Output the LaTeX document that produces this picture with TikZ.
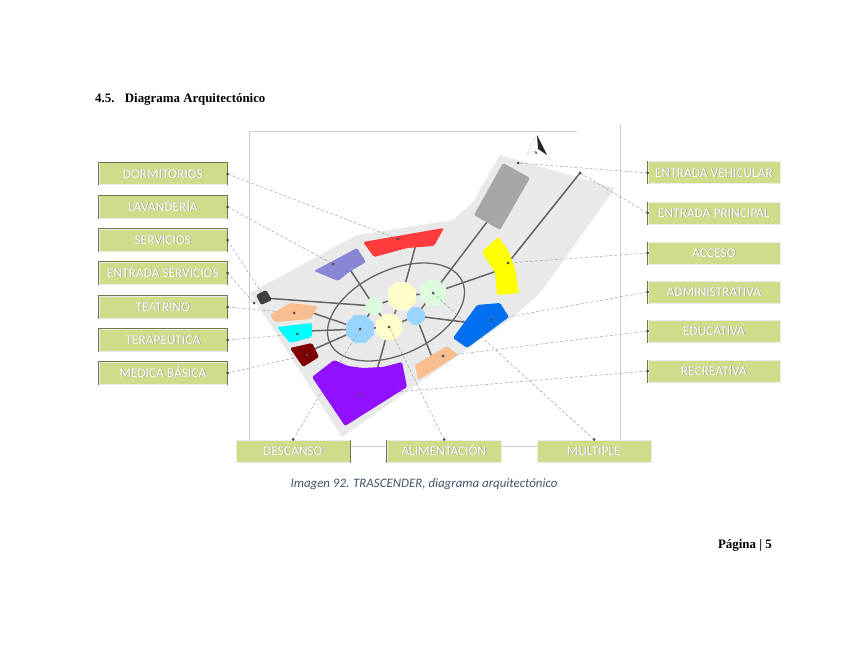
\documentclass[tikz,border=0pt]{standalone}
\usepackage{fontspec}
\setmainfont{Liberation Serif}
\newfontfamily\boxfont{Carlito}
\usetikzlibrary{shapes.geometric}
\definecolor{sitegray}{HTML}{E9E9E9}
\definecolor{boxgreen}{HTML}{CFDD8A}
\definecolor{framegray}{HTML}{CCCCCC}
\definecolor{linkgray}{HTML}{666666}
\definecolor{leadgray}{HTML}{9A9A9A}
\definecolor{capblue}{HTML}{44546A}
\definecolor{cream}{HTML}{FFFFCC}
\definecolor{mint}{HTML}{DDFBDD}
\definecolor{sky}{HTML}{99D6FF}
\definecolor{peach}{HTML}{F9BE8F}
\definecolor{lavender}{HTML}{8A86D6}
\definecolor{zyellow}{HTML}{FFFF00}
\definecolor{zcyan}{HTML}{00FFFF}
\definecolor{zred}{HTML}{FF3B3B}
\definecolor{zdark}{HTML}{7F0000}
\definecolor{zpurple}{HTML}{9010FF}
\definecolor{zblue}{HTML}{0070F0}
\definecolor{edgegreen}{HTML}{6F7A4A}
\newcommand{\boxtext}[1]{\leavevmode\rlap{\hspace{.7pt}\raisebox{-.7pt}{\textcolor{black!38}{#1}}}\textcolor{white!96!boxgreen}{#1}}
\tikzset{
  zonebox/.style={draw=black!8,line width=1pt,fill=boxgreen,minimum height=22pt,inner sep=0pt,text height=8.5pt,text depth=0pt,font=\boxfont\fontsize{13.4}{14}\selectfont},
  lbox/.style={zonebox,minimum width=128pt},
  rbox/.style={zonebox,minimum width=132pt},
  bbox/.style={zonebox,minimum width=114pt},
  bubble/.style={regular polygon,regular polygon sides=8,inner sep=0pt,fill=#1},
  pt/.style={circle,fill=black!70,inner sep=0pt,minimum size=3pt},
  link/.style={linkgray,line width=1.5pt},
  lead/.style={leadgray,densely dashed,line width=.45pt},
  zone/.style={fill=#1,rounded corners=1.5pt},
  edge/.style={edgegreen,line width=.7pt}
}
\begin{document}
\begin{tikzpicture}[x=1pt,y=-1pt]
\useasboundingbox[fill=white] (0,0) rectangle (848,655);
% page text
\node[anchor=west,inner sep=0pt,font=\bfseries\fontsize{12.9}{14}\selectfont] (title) at (95,99) {4.5.\hspace{.8em}Diagrama Arquitectónico};
\node[inner sep=0pt,text=capblue,font=\boxfont\itshape\fontsize{12.9}{14}\selectfont] (caption) at (424,484) {Imagen 92. TRASCENDER, diagrama arquitectónico};
\node[anchor=east,inner sep=0pt,font=\bfseries\fontsize{12.9}{14}\selectfont] (page) at (772,545) {Página | 5};
% frame
\draw[framegray,line width=.8pt] (577,131)--(249,131)--(249,446)--(620,446)--(620,125);
% site
\fill[sitegray] (500,155)--(615,188)--(540,293)--(513,317)--(342,437)--(250,293)--(357,235)--(453,220)--(473,202)--cycle;
% north
\fill[white,draw=black!15,line width=.4pt] (535,137)--(527,155)--(535,150)--cycle;
\fill[black!85] (537,135)--(547,155)--(538,149)--cycle;
\node[inner sep=0pt,font=\bfseries\fontsize{4}{4}\selectfont] (north) at (536,153) {N};
% ring
\draw[linkgray,line width=1.3pt] (396,312) ellipse [x radius=73pt,y radius=42pt,rotate=25];
% bubbles
\node[bubble=mint,minimum size=28pt] (bgreen) at (433,293) {};
\node[bubble=mint,minimum size=18pt] (bsmall) at (374,306) {};
\node[bubble=cream,minimum size=30pt] (bcream) at (402,296) {};
\node[bubble=cream,minimum size=28pt] (blow) at (389,327) {};
\node[bubble=sky,minimum size=30pt] (bblue) at (360,329) {};
\node[bubble=sky,minimum size=19pt] (bsky) at (416,316) {};
% links
\coordinate (egray) at (490,218); \coordinate (eyel) at (497,271); \coordinate (ered) at (416,244);
\coordinate (elav) at (349,268); \coordinate (edark) at (264,298); \coordinate (eteat) at (310,312);
\coordinate (ecyan) at (308,331); \coordinate (edred) at (312,350); \coordinate (epur) at (377,370);
\coordinate (eedu) at (433,360); \coordinate (eblue) at (472,323);
\foreach \a/\b in {bgreen/egray,bgreen/eyel,bcream/ered,bsmall/elav,bsmall/edark,bblue/eteat,bblue/ecyan,bblue/edred,blow/epur,bsky/eedu,bsky/eblue,
  bcream/bsmall,bcream/bgreen,bcream/blow,bsmall/bblue,bsmall/blow,blow/bsky,bsky/bgreen,bblue/blow}
  {\draw[link] (\a)--(\b);}
% labels
\foreach \n/\y/\t in {dorm/174/DORMITORIOS,lav/207/LAVANDERÍA,serv/240/SERVICIOS,ents/273/ENTRADA SERVICIOS,teat/307/TEATRINO,tera/340/TERAPEUTICA,med/373/MEDICA BÁSICA}
  {\node[lbox] (\n) at (163,\y) {\boxtext{\t}};
   \draw[edge] (\n.south west)--(\n.north west)--(\n.north east)--(\n.south east);}
\foreach \n/\y/\t in {entv/173/ENTRADA VEHICULAR,entp/213/ENTRADA PRINCIPAL,acc/253/ACCESO,adm/292/ADMINISTRATIVA,edu/331/EDUCATIVA,rec/371/RECREATIVA}
  {\node[rbox] (\n) at (714,\y) {\boxtext{\t}};
   \draw[edge] (\n.north west)--(\n.south west);}
\foreach \n/\x/\t in {desc/293/DESCANSO,alim/444/ALIMENTACIÓN,mult/594/MULTIPLE}
  {\node[bbox] (\n) at (\x,451) {\boxtext{\t}};}
\draw[edge] (desc.north east)--(desc.south east);
\draw[edge] (alim.north west)--(alim.south west);
% leaders
\coordinate (pdorm) at (398,239); \coordinate (plav) at (333,264); \coordinate (pserv) at (264,297);
\coordinate (pents) at (254,303); \coordinate (pteat) at (294,313); \coordinate (ptera) at (297,334);
\coordinate (pmed) at (307,355); \coordinate (pentv) at (518,163); \coordinate (pentp) at (580,173);
\coordinate (pacc) at (508,263); \coordinate (padm) at (491,320); \coordinate (pedu) at (443,356);
\coordinate (prec) at (360,395); \coordinate (pdesc) at (360,329); \coordinate (palim) at (389,327);
\coordinate (pmult) at (433,293);
\draw[link] (pentp)--(pacc);
\foreach \a/\b in {dorm/pdorm,lav/plav,serv/pserv,ents/pents,teat/pteat,tera/ptera,med/pmed}
  {\draw[lead] (\a.east)--(\b);}
\foreach \a/\b in {entv/pentv,entp/pentp,acc/pacc,adm/padm,edu/pedu,rec/prec}
  {\draw[lead] (\a.west)--(\b);}
\foreach \a/\b in {desc/pdesc,alim/palim,mult/pmult}
  {\draw[lead] (\a.north)--(\b);}
% zones
\fill[zone={black!35}] (503,163)--(530,178)--(500,230)--(474,215)--cycle;
\fill[zone=zyellow] (482,252)--(498,237)--(508,250)--(515,268)--(519,293)--(497,295)--(495,272)--cycle;
\fill[zone=zred] (363,242)--(444,228)--(434,246)--(407,248)--(374,257)--cycle;
\fill[zone=lavender] (314,271)--(357,248)--(366,262)--(349,272)--(338,281)--cycle;
\fill[zone={black!75}] (256,295)--(266,290)--(272,300)--(261,305)--cycle;
\fill[zone=peach] (270,315)--(290,303)--(318,306)--(311,319)--(275,322)--cycle;
\fill[zone=zcyan] (277,327)--(312,323)--(312,337)--(290,343)--cycle;
\fill[zone=zdark] (290,348)--(312,343)--(319,357)--(303,367)--cycle;
\fill[zone=zpurple] (312,377)--(334,360)--(348,366)--(363,368)--(383,367)--(402,362)--(407,387)--(345,426)--cycle;
\fill[zone=peach] (415,365)--(447,346)--(458,355)--(418,380)--cycle;
\fill[zone=zblue] (453,338)--(477,305)--(500,303)--(509,317)--(467,348)--cycle;
% dots
\foreach \p in {pdorm,plav,pserv,pents,pteat,ptera,pmed,pentv,pentp,pacc,padm,pedu,prec,pdesc,palim,pmult}
  {\node[pt] (d\p) at (\p) {};}
\foreach \a in {dorm,lav,serv,ents,teat,tera,med}
  {\node[pt] (d\a) at (\a.east) {};}
\foreach \a in {entv,entp,acc,adm,edu,rec}
  {\node[pt] (d\a) at (\a.west) {};}
\foreach \a in {desc,alim,mult}
  {\node[pt] (d\a) at (\a.north) {};}
\end{tikzpicture}
\end{document}
